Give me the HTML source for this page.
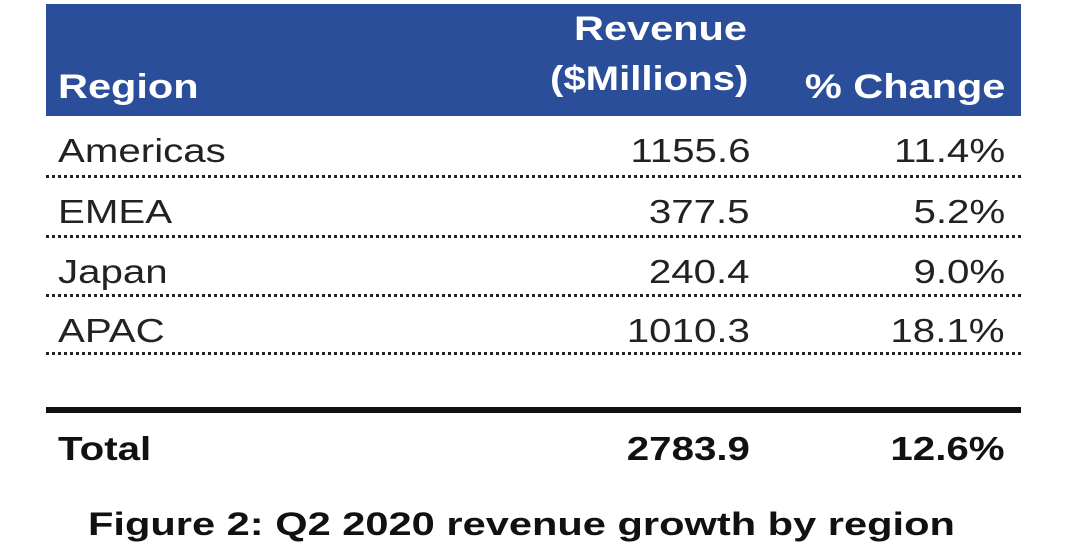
<!DOCTYPE html>
<html><head><meta charset="utf-8"><style>
body{margin:0;width:1080px;height:557px;background:#fff;position:relative;overflow:hidden;font-family:"Liberation Sans",Arial,sans-serif;}
.a{position:absolute;white-space:nowrap;line-height:1;}
.L{transform:scaleX(1.22);transform-origin:left top;}
.R{transform:scaleX(1.22);transform-origin:right top;}
.hd{position:absolute;left:46px;top:4px;width:975px;height:112px;background:#2b4e9b;}
.w{color:#fff;font-weight:bold;font-size:34px;}
.r{color:#222;font-size:33px;}
.dot{position:absolute;left:46px;width:975px;height:0;border-top:3px dotted #222;}
</style></head><body>
<div class="hd"></div>
<div class="a w L" style="left:574px;top:12px;">Revenue</div>
<div class="a w" style="left:550px;top:62px;transform:scaleX(1.18);transform-origin:left top;">($Millions)</div>
<div class="a w L" style="left:58px;top:70px;">Region</div>
<div class="a w R" style="right:75px;top:70px;">% Change</div>

<div class="a r L" style="left:58px;top:134px;">Americas</div>
<div class="a r R" style="right:330px;top:134px;">1155.6</div>
<div class="a r R" style="right:75px;top:134px;">11.4%</div>
<div class="dot" style="top:175px;"></div>

<div class="a r L" style="left:58px;top:195px;">EMEA</div>
<div class="a r R" style="right:330px;top:195px;">377.5</div>
<div class="a r R" style="right:75px;top:195px;">5.2%</div>
<div class="dot" style="top:235px;"></div>

<div class="a r L" style="left:58px;top:255px;">Japan</div>
<div class="a r R" style="right:330px;top:255px;">240.4</div>
<div class="a r R" style="right:75px;top:255px;">9.0%</div>
<div class="dot" style="top:294px;"></div>

<div class="a r L" style="left:58px;top:314px;">APAC</div>
<div class="a r R" style="right:330px;top:314px;">1010.3</div>
<div class="a r R" style="right:75px;top:314px;">18.1%</div>
<div class="dot" style="top:352px;"></div>

<div style="position:absolute;left:46px;top:407px;width:975px;height:6px;background:#111;"></div>

<div class="a r L" style="left:58px;top:432px;font-weight:bold;color:#111;">Total</div>
<div class="a r R" style="right:330px;top:432px;font-weight:bold;color:#111;">2783.9</div>
<div class="a r R" style="right:75px;top:432px;font-weight:bold;color:#111;">12.6%</div>

<div class="a" style="left:88px;top:508px;font-size:32px;font-weight:bold;color:#111;transform:scaleX(1.3);transform-origin:left top;">Figure 2: Q2 2020 revenue growth by region</div>
</body></html>
